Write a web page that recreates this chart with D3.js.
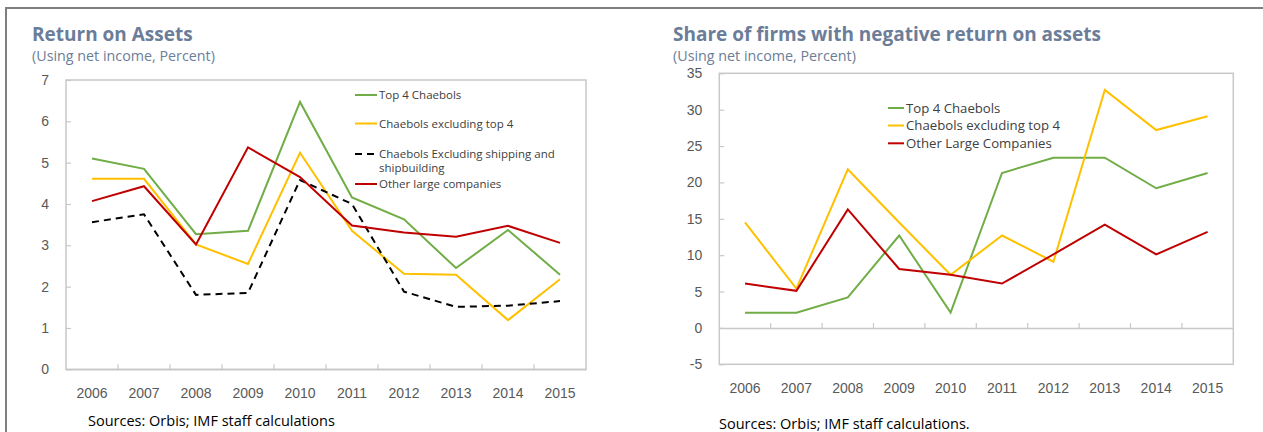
<!DOCTYPE html>
<html>
<head>
<meta charset="utf-8">
<script src="https://cdn.jsdelivr.net/npm/d3@7"></script>
<style>
  html, body { margin: 0; padding: 0; background: #fff; }
  svg { display: block; font-family: "Open Sans", "Noto Sans", sans-serif; }
  .title { font-weight: 700; fill: #6b7d98; }
  .subtitle { fill: #6b7d98; }
  .tick text { fill: #595959; }
  .source { fill: #000; }
  .legend text { fill: #404040; }
</style>
</head>
<body>
<svg id="chart" width="1263" height="432"></svg>
<script>
// Years shown on both panels
const years = ["2006", "2007", "2008", "2009", "2010", "2011", "2012", "2013", "2014", "2015"];

// Return on assets (percent)
const roaTop4        = [5.10, 4.85, 3.27, 3.35, 6.47, 4.16, 3.63, 2.45, 3.37, 2.29];
const roaExTop4      = [4.61, 4.61, 3.02, 2.55, 5.24, 3.35, 2.31, 2.29, 1.19, 2.18];
const roaExShipping  = [3.56, 3.75, 1.80, 1.85, 4.58, 4.00, 1.88, 1.51, 1.54, 1.65];
const roaOtherLarge  = [4.07, 4.43, 3.02, 5.37, 4.65, 3.48, 3.31, 3.21, 3.47, 3.06];
const roaTicks = [0, 1, 2, 3, 4, 5, 6, 7];

// Share of firms with negative return on assets (percent)
const negTop4       = [2.1, 2.1, 4.2, 12.7, 2.1, 21.3, 23.4, 23.4, 19.2, 21.3];
const negExTop4     = [14.5, 5.4, 21.8, 14.5, 7.3, 12.7, 9.1, 32.7, 27.2, 29.1];
const negOtherLarge = [6.1, 5.1, 16.3, 8.1, 7.3, 6.1, 10.1, 14.2, 10.1, 13.2];
const negTicks = [-5, 0, 5, 10, 15, 20, 25, 30, 35];

const GREEN = "#70ad47", GOLD = "#ffc000", RED = "#c00000", BLACK = "#000";

const svg = d3.select("#chart");

// Outer frame: top rule and left edge
svg.append("line").attr("x1", 5).attr("x2", 1263).attr("y1", 8).attr("y2", 8)
  .attr("stroke", "#7f7f7f").attr("stroke-width", 2);
svg.append("line").attr("x1", 6).attr("x2", 6).attr("y1", 7).attr("y2", 432)
  .attr("stroke", "#7f7f7f").attr("stroke-width", 2);

function panel(cfg) {
  const g = svg.append("g");
  const { left, right, top, bottom } = cfg.plot;

  g.append("text").attr("class", "title").attr("x", cfg.titleX).attr("y", 41)
    .style("font-size", "19px").text(cfg.title);
  g.append("text").attr("class", "subtitle").attr("x", cfg.titleX).attr("y", 61)
    .style("font-size", "14.3px").text(cfg.subtitle);

  const x = d3.scaleBand().domain(years).range([left, right]);
  const y = d3.scaleLinear().domain(cfg.yDomain).range([bottom, top]);

  // plot-area frame
  g.append("rect").attr("x", left).attr("y", top)
    .attr("width", right - left).attr("height", bottom - top)
    .attr("fill", "none").attr("stroke", "#c8c8c8").attr("stroke-width", 1.5);

  // y axis
  const yAxis = g.append("g").attr("transform", `translate(${left},0)`)
    .call(d3.axisLeft(y).tickValues(cfg.yTicks).tickFormat(d => String(d))
      .tickSize(-5).tickPadding(17));
  yAxis.select(".domain").remove();
  yAxis.selectAll("line").attr("stroke", "#c8c8c8").attr("stroke-width", 1.2);
  yAxis.selectAll("text").style("font-size", "14px").attr("font-family", null);

  // category axis, drawn at zero
  const y0 = y(0);
  const xAxis = g.append("g").attr("transform", `translate(0,${y0})`)
    .call(d3.axisBottom(x).tickSizeInner(0).tickSizeOuter(0).tickPadding(cfg.xLabelPad));
  xAxis.select(".domain").attr("stroke", "#c8c8c8").attr("stroke-width", 1.5);
  xAxis.selectAll("text").style("font-size", "14px").attr("font-family", null)
    .attr("transform", `translate(0,${cfg.xLabelShift})`);
  // boundary ticks between categories, pointing up into the plot
  g.append("g").selectAll("line").data(years.slice(1)).join("line")
    .attr("x1", d => x(d)).attr("x2", d => x(d))
    .attr("y1", y0).attr("y2", y0 - 5)
    .attr("stroke", "#c8c8c8").attr("stroke-width", 1.2);

  const line = d3.line()
    .x((d, i) => x(years[i]) + x.bandwidth() / 2)
    .y(d => y(d));

  cfg.series.forEach(s => {
    g.append("path").datum(s.values)
      .attr("fill", "none").attr("stroke", s.color).attr("stroke-width", 2)
      .attr("stroke-dasharray", s.dash || null)
      .attr("stroke-linejoin", "miter")
      .attr("d", line);
  });

  // legend
  const lg = g.append("g").attr("class", "legend");
  cfg.series.forEach((s, i) => {
    const ly = cfg.legend.rows[i];
    lg.append("line").attr("x1", cfg.legend.x).attr("x2", cfg.legend.x + cfg.legend.len)
      .attr("y1", ly).attr("y2", ly)
      .attr("stroke", s.color).attr("stroke-width", 2)
      .attr("stroke-dasharray", s.dash || null);
    const t = lg.append("text").attr("y", ly).style("font-size", cfg.legend.size);
    s.label.forEach((part, k) => {
      t.append("tspan").attr("x", cfg.legend.x + cfg.legend.len + 2)
        .attr("dy", k === 0 ? "0.35em" : "1.25em").text(part);
    });
  });

  g.append("text").attr("class", "source").attr("x", cfg.sourceX).attr("y", cfg.sourceY)
    .style("font-size", "14.5px").text(cfg.source);
}

panel({
  title: "Return on Assets",
  subtitle: "(Using net income, Percent)",
  titleX: 32,
  plot: { left: 66, right: 586, top: 80, bottom: 369.3 },
  yDomain: [0, 7],
  yTicks: roaTicks,
  xLabelPad: 18,
  xLabelShift: 1,
  series: [
    { values: roaTop4, color: GREEN, label: ["Top 4 Chaebols"] },
    { values: roaExTop4, color: GOLD, label: ["Chaebols excluding top 4"] },
    { values: roaExShipping, color: BLACK, dash: "7,5", label: ["Chaebols Excluding shipping and", "shipbuilding"] },
    { values: roaOtherLarge, color: RED, label: ["Other large companies"] }
  ],
  legend: { x: 355, len: 22, rows: [95, 123.5, 154, 184], size: "11.5px" },
  source: "Sources: Orbis; IMF staff calculations",
  sourceX: 88, sourceY: 426
});

panel({
  title: "Share of firms with negative return on assets",
  subtitle: "(Using net income, Percent)",
  titleX: 673,
  plot: { left: 719.3, right: 1233.3, top: 73.3, bottom: 364.3 },
  yDomain: [-5, 35],
  yTicks: negTicks,
  xLabelPad: 18,
  xLabelShift: 37,
  series: [
    { values: negTop4, color: GREEN, label: ["Top 4 Chaebols"] },
    { values: negExTop4, color: GOLD, label: ["Chaebols excluding top 4"] },
    { values: negOtherLarge, color: RED, label: ["Other Large Companies"] }
  ],
  legend: { x: 888, len: 16, rows: [108, 125.5, 143.3], size: "13.2px" },
  source: "Sources: Orbis; IMF staff calculations.",
  sourceX: 719, sourceY: 429
});
</script>
</body>
</html>
